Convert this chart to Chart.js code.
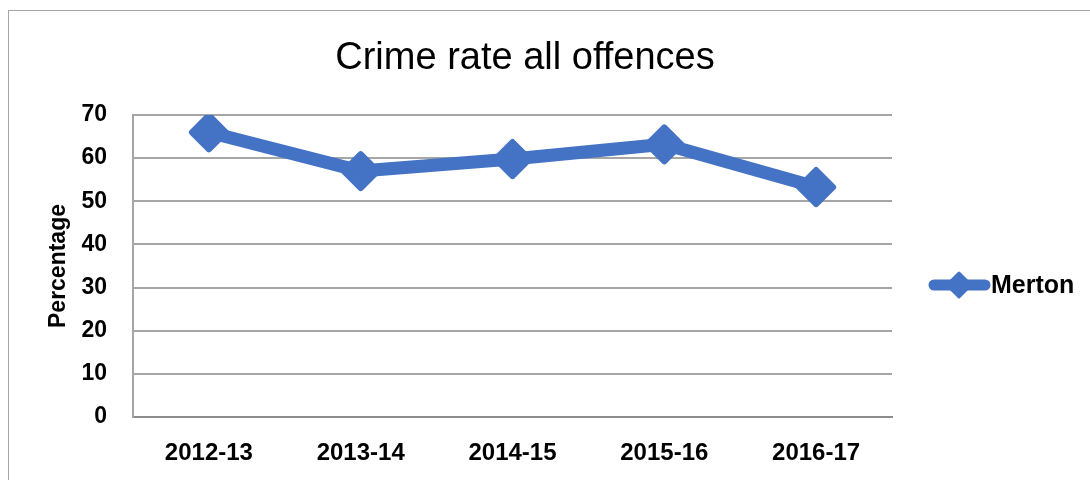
<!DOCTYPE html>
<html lang="en">

<head>
    <meta charset="UTF-8" />
    <title>Crime rate all offences</title>
    <script src="https://cdn.jsdelivr.net/npm/chart.js"></script>
    <style>
        html, body { margin: 0; padding: 0; background: #fff; overflow: hidden; }
        .moldura {
            position: absolute; left: 8px; top: 10px; width: 1200px; height: 600px;
            border-left: 1px solid #a6a6a6; border-top: 1px solid #a6a6a6;
            pointer-events: none;
        }
        #grafico_crime { position: absolute; left: 0; top: 0; }
    </style>
</head>

<body>
    <canvas id="grafico_crime" width="1090" height="480"></canvas>
    <div class="moldura"></div>

<script>

    // dados
    var anos = ['2012-13', '2013-14', '2014-15', '2015-16', '2016-17'];
    var merton_valores = [66, 57, 59.8, 63.2, 53.3];
    var serie_nome = 'Merton';
    var titulo = 'Crime rate all offences';
    var eixo_y_titulo = 'Percentage';
    var eixo_y_min = 0;
    var eixo_y_max = 70;
    var eixo_y_passo = 10;

    var azul = '#4472C4';
    var fonte = '"Liberation Sans", Arial, sans-serif';

    // titulo e legenda desenhados a mao
    const extras = {
        id: 'extras',
        beforeDatasetsDraw(chart) {
            // losangos com cantos arredondados
            chart.ctx.lineJoin = 'round';
        },
        afterDraw(chart) {
            const ctx = chart.ctx;
            ctx.save();
            ctx.fillStyle = '#000';
            ctx.font = '38px ' + fonte;
            ctx.textAlign = 'center';
            ctx.textBaseline = 'middle';
            ctx.fillText(titulo, 525, 59);

            // legenda: linha + losango
            const ly = 285;
            ctx.strokeStyle = azul;
            ctx.lineWidth = 11;
            ctx.lineCap = 'round';
            ctx.lineJoin = 'round';
            ctx.beginPath();
            ctx.moveTo(934, ly);
            ctx.lineTo(985, ly);
            ctx.stroke();
            ctx.fillStyle = azul;
            ctx.lineWidth = 3;
            ctx.beginPath();
            ctx.moveTo(959, ly - 12);
            ctx.lineTo(971, ly);
            ctx.lineTo(959, ly + 12);
            ctx.lineTo(947, ly);
            ctx.closePath();
            ctx.fill();
            ctx.stroke();

            ctx.fillStyle = '#000';
            ctx.font = 'bold 25px ' + fonte;
            ctx.textAlign = 'left';
            ctx.fillText(serie_nome, 991, ly + 1);
            ctx.restore();
        }
    };

    const grafico = document.getElementById('grafico_crime');
    new Chart(grafico, {
        type: 'line',
        data: {
            labels: anos,
            datasets: [{
                label: serie_nome,
                data: merton_valores,
                borderColor: azul,
                backgroundColor: azul,
                borderWidth: 13,
                borderJoinStyle: 'round',
                pointStyle: 'rectRot',
                pointRadius: 17,
                pointHoverRadius: 17,
                pointBorderWidth: 6,
                pointBorderColor: azul,
                pointBackgroundColor: azul,
                tension: 0
            }]
        },
        options: {
            responsive: false,
            animation: false,
            layout: {
                padding: { top: 115, left: 0, right: 198, bottom: 0 }
            },
            plugins: {
                legend: { display: false },
                title: { display: false },
                tooltip: { enabled: false }
            },
            scales: {
                x: {
                    offset: true,
                    grid: { display: false, drawTicks: false },
                    border: { display: true, color: '#8c8c8c', width: 2 },
                    ticks: {
                        color: '#000',
                        padding: 22,
                        maxRotation: 0,
                        font: { family: fonte, size: 24, weight: 'bold' }
                    },
                    afterFit: function (scale) { scale.height = 63; }
                },
                y: {
                    min: eixo_y_min,
                    max: eixo_y_max,
                    ticks: {
                        stepSize: eixo_y_passo,
                        color: '#000',
                        padding: 26,
                        font: { family: fonte, size: 23, weight: 'bold' }
                    },
                    grid: { color: '#a6a6a6', lineWidth: 2, drawTicks: false },
                    border: { display: true, color: '#a6a6a6', width: 2 },
                    title: {
                        display: true,
                        text: eixo_y_titulo,
                        color: '#000',
                        padding: { top: 45, bottom: 0 },
                        font: { family: fonte, size: 23, weight: 'bold' }
                    },
                    afterFit: function (scale) { scale.width = 133; }
                }
            }
        },
        plugins: [extras]
    });

</script>
</body>

</html>
